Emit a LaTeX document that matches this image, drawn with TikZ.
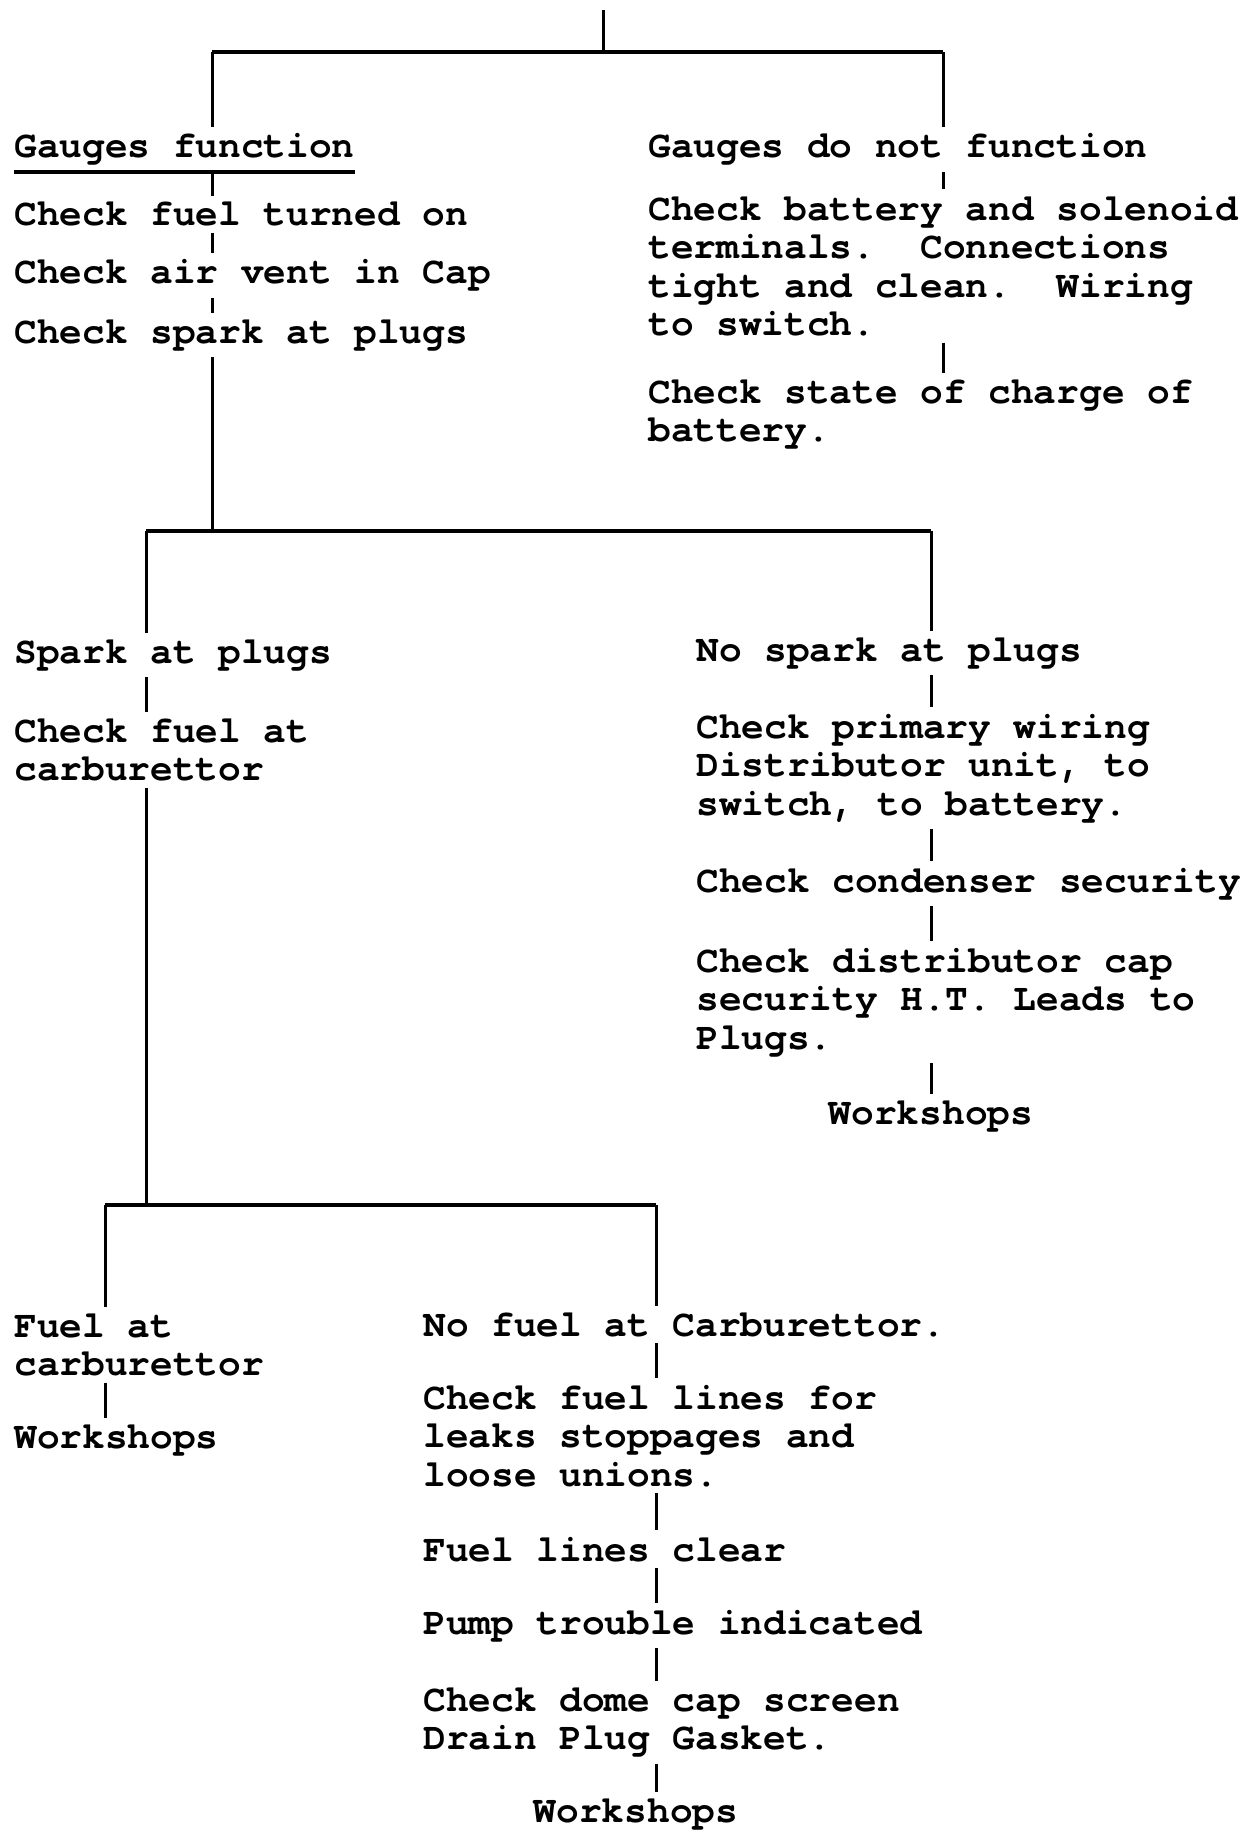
\documentclass[tikz,border=0pt]{standalone}
\usepackage{fontspec}
\setmonofont{TeX Gyre Cursor}
\usetikzlibrary{calc}
\newcommand{\typed}{\fontsize{18.9}{19.25}\selectfont\ttfamily\bfseries}
\tikzset{
  txt/.style={anchor=base west, align=left, inner xsep=0pt, inner ysep=3pt, font=\typed},
  link/.style={line width=1.5pt},
  branch/.style={line width=2.2pt}
}
\begin{document}
\frenchspacing
\begin{tikzpicture}[x=0.5pt, y=-0.5pt]
  \useasboundingbox (0,0) rectangle (1244,1830);
  % columns and junctions
  \coordinate (colA) at (212,0);
  \coordinate (colB) at (943,0);
  \coordinate (colC) at (146,0);
  \coordinate (colD) at (931,0);
  \coordinate (colE) at (105,0);
  \coordinate (colF) at (656,0);
  \coordinate (root) at (603,10);
  \coordinate (j1) at (603,52);
  \coordinate (j2) at (0,531);
  \coordinate (j3) at (0,1205);

  % gauges function (base = last line)
  \node[txt] (gf) at (14,158) {Gauges function};
  \node[txt] (c1) at (14,226) {Check fuel turned on};
  \node[txt] (c2) at (14,284) {Check air vent in Cap};
  \node[txt] (c3) at (14,343) {Check spark at plugs};
  % gauges do not function
  \node[txt] (gn) at (648,158) {Gauges do not function};
  \node[txt] (b1) at (648,335.5) {Check battery and solenoid\\terminals.~ Connections\\tight and clean.~ Wiring\\to switch.};
  \node[txt] (b2) at (648,441.5) {Check state of charge of\\battery.};
  % spark / no spark
  \node[txt] (sp) at (14,663) {Spark at plugs};
  \node[txt] (cf) at (14,780.5) {Check fuel at\\carburettor};
  \node[txt] (ns) at (696,661) {No spark at plugs};
  \node[txt] (d1) at (696,815) {Check primary wiring\\Distributor unit, to\\switch, to battery.};
  \node[txt] (d2) at (696,892) {Check condenser security};
  \node[txt] (d3) at (696,1049) {Check distributor cap\\security H.T. Leads to\\Plugs.};
  \node[txt, anchor=base] (w1) at (931,1124) {Workshops};
  % fuel / no fuel
  \node[txt] (fa) at (14,1375.5) {Fuel at\\carburettor};
  \node[txt] (w2) at (14,1448) {Workshops};
  \node[txt] (nf) at (423,1336) {No fuel at Carburettor.};
  \node[txt] (f1) at (423,1486) {Check fuel lines for\\leaks stoppages and\\loose unions.};
  \node[txt] (f2) at (423,1561) {Fuel lines clear};
  \node[txt] (f3) at (423,1634) {Pump trouble indicated};
  \node[txt] (f4) at (423,1749.5) {Check dome cap screen\\Drain Plug Gasket.};
  \node[txt, anchor=base] (w3) at (636,1822) {Workshops};

  \draw[branch] (gf.south west) -- (gf.south east);

  % branches
  \draw[link] (root) -- (j1);
  \draw[branch] (j1 -| colA) -- (j1 -| colB);
  \draw[link] (j1 -| colA) -- (gf.north -| colA);
  \draw[link] (j1 -| colB) -- (gn.north -| colB);
  \draw[link] (c3.south -| colA) -- (j2 -| colA);
  \draw[branch] (j2 -| colC) -- (j2 -| colD);
  \draw[link] (j2 -| colC) -- (sp.north -| colC);
  \draw[link] (j2 -| colD) -- (ns.north -| colD);
  \draw[link] (cf.south -| colC) -- (j3 -| colC);
  \draw[branch] (j3 -| colE) -- (j3 -| colF);
  \draw[link] (j3 -| colE) -- (fa.north -| colE);
  \draw[link] (j3 -| colF) -- (nf.north -| colF);

  \foreach \from/\to/\col in {gf/c1/colA, c1/c2/colA, c2/c3/colA, gn/b1/colB, b1/b2/colB,
      sp/cf/colC, ns/d1/colD, d1/d2/colD, d2/d3/colD, d3/w1/colD, fa/w2/colE,
      nf/f1/colF, f1/f2/colF, f2/f3/colF, f3/f4/colF, f4/w3/colF}
    \draw[link] (\from.south -| \col) -- (\to.north -| \col);
\end{tikzpicture}
\end{document}
